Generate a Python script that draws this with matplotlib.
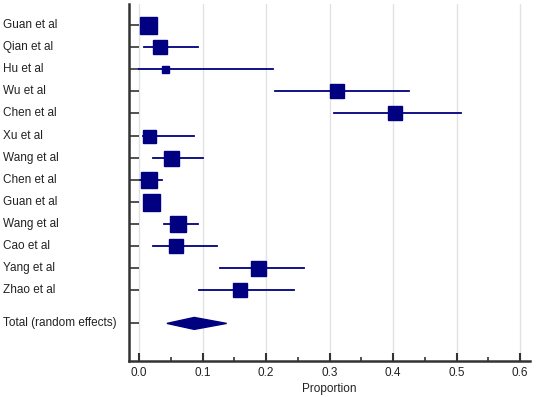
import matplotlib
matplotlib.use("Agg")
import matplotlib.pyplot as plt
import matplotlib.transforms as mtransforms
from matplotlib.patches import Polygon
from matplotlib.ticker import MultipleLocator

# ── Datos ─────────────────────────────────────────────────────
STUDIES = ["Guan et al", "Qian et al", "Hu et al", "Wu et al", "Chen et al",
           "Xu et al", "Wang et al", "Chen et al", "Guan et al", "Wang et al",
           "Cao et al", "Yang et al", "Zhao et al"]
EST  = [0.014, 0.033, 0.041, 0.312, 0.403, 0.016, 0.051, 0.015, 0.019,
        0.062, 0.059, 0.188, 0.159]
LOW  = [0.004, 0.008, 0.000, 0.214, 0.307, 0.007, 0.022, 0.002, 0.008,
        0.039, 0.022, 0.128, 0.095]
HIGH = [0.026, 0.093, 0.211, 0.425, 0.507, 0.087, 0.101, 0.037, 0.030,
        0.093, 0.123, 0.260, 0.244]
BOX_PX = [17, 14, 7, 14, 14, 13, 15, 16, 17, 16, 14, 15, 14]   # lado del cuadrado (px)

TOTAL_LABEL = "Total (random effects)"
TOTAL_EST, TOTAL_LOW, TOTAL_HIGH = 0.087, 0.044, 0.138
# ──────────────────────────────────────────────────────────────

NAVY = "#000080"
DPI = 100
plt.rcParams["font.family"] = ["Liberation Sans", "DejaVu Sans"]

fig = plt.figure(figsize=(5.36, 3.97), dpi=DPI)
ax = fig.add_axes([0.2407, 0.0907, 0.989 - 0.2407, 0.99 - 0.0907])

ys = list(range(len(STUDIES)))
y_total = len(STUDIES) - 1 + 1.5

for y, e, lo, hi, px in zip(ys, EST, LOW, HIGH, BOX_PX):
    ax.plot([lo, hi], [y, y], color=NAVY, linewidth=1.3, zorder=3)
    ax.plot([e], [y], marker="s", markersize=px * 72 / DPI, color=NAVY,
            markeredgecolor=NAVY, zorder=4)

half_h = 0.27
ax.add_patch(Polygon([[TOTAL_LOW, y_total], [TOTAL_EST, y_total - half_h],
                      [TOTAL_HIGH, y_total], [TOTAL_EST, y_total + half_h]],
                     closed=True, facecolor=NAVY, edgecolor=NAVY, zorder=4))

ax.set_xlim(-0.0157, 0.6157)
ax.set_ylim(15.2, -0.95)

ax.xaxis.set_minor_locator(MultipleLocator(0.05))
ax.set_xticks([0, 0.1, 0.2, 0.3, 0.4, 0.5, 0.6])
ax.set_xticklabels(["0.0", "0.1", "0.2", "0.3", "0.4", "0.5", "0.6"])
ax.grid(axis="x", which="major", color="#e2e2e2", linewidth=1.0, zorder=0)
ax.set_axisbelow(True)
ax.tick_params(axis="x", which="major", direction="in", length=6, width=1.5,
               color="#333333", labelsize=8.5, pad=4, labelcolor="#222222")
ax.tick_params(axis="x", which="minor", direction="in", length=3, width=1.2,
               color="#333333")
ax.set_xlabel("Proportion", fontsize=8.5, labelpad=3, color="#222222")

ax.set_yticks(ys + [y_total])
ax.set_yticklabels([])
ax.tick_params(axis="y", direction="in", length=7, width=1.2, color="#333333")

for side in ("top", "right"):
    ax.spines[side].set_visible(False)
for side in ("left", "bottom"):
    ax.spines[side].set_linewidth(1.8)
    ax.spines[side].set_color("#333333")

trans = mtransforms.blended_transform_factory(fig.transFigure, ax.transData)
for y, name in zip(ys, STUDIES):
    ax.text(3 / 536, y, name, transform=trans, ha="left", va="center",
            fontsize=8.5, color="#222222")
ax.text(3 / 536, y_total, TOTAL_LABEL, transform=trans, ha="left",
        va="center", fontsize=8.5, color="#222222")

fig.savefig("out.png", dpi=DPI)
